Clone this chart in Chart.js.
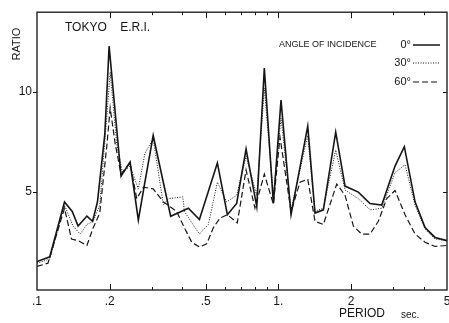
<!DOCTYPE html>
<html>
<head>
<meta charset="utf-8">
<script src="https://cdn.jsdelivr.net/npm/chart.js@4"></script>
<style>
  html, body { margin: 0; padding: 0; background: #fff; }
  #wrap { width: 449px; height: 323px; }
</style>
</head>
<body>
<div id="wrap"><canvas id="chart" width="449" height="323"></canvas></div>
<script>
// period (sec) and amplification ratio
const periods0 = [0.1, 0.113, 0.130, 0.140, 0.148, 0.161, 0.170, 0.178, 0.191, 0.199, 0.223, 0.243, 0.263, 0.280, 0.303,
  0.358, 0.424, 0.471, 0.559, 0.615, 0.672, 0.735, 0.814, 0.875, 0.954, 1.026, 1.129, 1.324, 1.419, 1.537, 1.729,
  1.890, 2.145, 2.399, 2.683, 3.045, 3.328, 3.686, 4.055, 4.461, 5.0];
const ratio0 = [1.52, 1.76, 4.5, 4.03, 3.3, 3.8, 3.54, 4.5, 7.9, 12.3, 5.8, 6.5, 3.6, 5.5, 7.83,
  3.79, 4.19, 3.63, 6.46, 3.87, 4.43, 7.15, 4.27, 11.2, 4.43, 9.6, 3.87, 8.3, 3.95, 4.11, 8.0,
  5.3, 5.0, 4.43, 4.35, 6.3, 7.27, 4.51, 3.22, 2.73, 2.57];

const periods30 = [0.1, 0.113, 0.130, 0.141, 0.151, 0.161, 0.171, 0.182, 0.195, 0.201, 0.214, 0.226, 0.243, 0.263, 0.280,
  0.303, 0.334, 0.350, 0.402, 0.408, 0.471, 0.513, 0.559, 0.611, 0.672, 0.735, 0.814, 0.875, 0.954, 1.026, 1.129,
  1.324, 1.419, 1.537, 1.729, 1.890, 2.145, 2.399, 2.683, 3.045, 3.350, 3.686, 4.055, 4.461, 5.0];
const ratio30 = [1.44, 1.65, 4.35, 3.3, 2.9, 3.38, 3.54, 4.35, 8.9, 11.0, 7.4, 5.97, 6.3, 5.16, 6.94,
  7.67, 4.35, 4.67, 4.76, 4.03, 2.9, 3.38, 5.49, 4.51, 4.84, 6.8, 4.84, 10.2, 4.84, 8.7, 4.11,
  7.83, 4.03, 4.2, 7.1, 5.1, 4.67, 4.11, 4.19, 5.97, 6.37, 4.35, 3.14, 2.65, 2.57];

const periods60 = [0.1, 0.111, 0.130, 0.139, 0.148, 0.161, 0.171, 0.182, 0.195, 0.201, 0.211, 0.223, 0.243, 0.259, 0.276,
  0.303, 0.334, 0.379, 0.411, 0.438, 0.471, 0.505, 0.538, 0.573, 0.615, 0.676, 0.735, 0.800, 0.875, 0.954, 1.016,
  1.129, 1.230, 1.324, 1.419, 1.537, 1.746, 1.890, 2.046, 2.216, 2.399, 2.597, 2.813, 3.045, 3.350, 3.686, 4.055,
  4.461, 5.0];
const ratio60 = [1.28, 1.44, 4.19, 2.65, 2.57, 2.33, 3.22, 3.95, 7.4, 9.2, 7.4, 5.9, 6.46, 4.67, 5.24,
  5.16, 4.51, 4.03, 3.14, 2.49, 2.25, 2.41, 3.22, 3.7, 3.87, 3.46, 6.1, 4.2, 5.9, 4.4, 7.75,
  4.03, 5.49, 5.65, 3.54, 3.38, 5.4, 4.84, 3.3, 2.9, 2.9, 3.54, 4.67, 5.08, 3.87, 2.9, 2.49,
  2.28, 2.33];

const xTickValues = [0.1, 0.2, 0.5, 1, 2, 5];
const xTickLabels = ['.1', '.2', '.5', '1.', '2', '5'];
const xMinorTicks = [0.3, 0.4, 0.6, 0.7, 0.8, 0.9, 3, 4];
const yTickValues = [5, 10];

const ink = '#151515';
const font = '"Liberation Sans", Arial, sans-serif';

function toPoints(xs, ys) {
  return xs.map((x, i) => ({ x: x, y: ys[i] }));
}

// frame, inward tick marks, titles and legend
const decorations = {
  id: 'decorations',
  afterDraw(chart) {
    const ctx = chart.ctx;
    const a = chart.chartArea;
    const xs = chart.scales.x;
    const ys = chart.scales.y;
    ctx.save();
    ctx.strokeStyle = ink;
    ctx.fillStyle = ink;
    ctx.lineWidth = 1.3;
    ctx.strokeRect(a.left, a.top, a.right - a.left, a.bottom - a.top);

    ctx.lineWidth = 1;
    ctx.beginPath();
    xTickValues.slice(1, -1).forEach(v => {
      const px = Math.round(xs.getPixelForValue(v)) + 0.5;
      ctx.moveTo(px, a.bottom); ctx.lineTo(px, a.bottom - 6);
      ctx.moveTo(px, a.top); ctx.lineTo(px, a.top + 6);
    });
    xMinorTicks.forEach(v => {
      const px = Math.round(xs.getPixelForValue(v)) + 0.5;
      ctx.moveTo(px, a.bottom); ctx.lineTo(px, a.bottom - 3);
      ctx.moveTo(px, a.top); ctx.lineTo(px, a.top + 3);
    });
    yTickValues.forEach(v => {
      const py = Math.round(ys.getPixelForValue(v)) + 0.5;
      ctx.moveTo(a.left - 4, py); ctx.lineTo(a.left, py);
      ctx.moveTo(a.right, py); ctx.lineTo(a.right - 4, py);
    });
    ctx.stroke();

    // axis titles
    ctx.font = '11px ' + font;
    ctx.save();
    ctx.translate(17, 44);
    ctx.rotate(-Math.PI / 2);
    ctx.textAlign = 'center';
    ctx.textBaseline = 'middle';
    ctx.fillText('RATIO', 0, 0);
    ctx.restore();

    ctx.textBaseline = 'middle';
    ctx.textAlign = 'left';
    ctx.font = '12px ' + font;
    ctx.fillText('PERIOD', 339, 314);
    ctx.font = '10px ' + font;
    ctx.fillText('sec.', 401, 315);

    ctx.font = '12px ' + font;
    ctx.fillText('TOKYO    E.R.I.', 65, 28);

    // legend
    ctx.font = '9px ' + font;
    ctx.fillText('ANGLE OF INCIDENCE', 279, 45);
    const entries = [['0°', [], 45, 1.5], ['30°', [1, 1.5], 63, 1], ['60°', [6, 3], 82, 1.2]];
    ctx.font = '11px ' + font;
    entries.forEach(e => {
      ctx.textAlign = 'right';
      ctx.fillText(e[0], 411, e[2]);
      ctx.beginPath();
      ctx.setLineDash(e[1]);
      ctx.lineWidth = e[3];
      ctx.moveTo(413, e[2]);
      ctx.lineTo(440, e[2]);
      ctx.stroke();
    });
    ctx.restore();
  }
};

new Chart(document.getElementById('chart').getContext('2d'), {
  type: 'line',
  data: {
    datasets: [
      { label: '0°', data: toPoints(periods0, ratio0), borderColor: ink, borderWidth: 1.6 },
      { label: '30°', data: toPoints(periods30, ratio30), borderColor: ink, borderWidth: 1, borderDash: [1, 1.5] },
      { label: '60°', data: toPoints(periods60, ratio60), borderColor: ink, borderWidth: 1.2, borderDash: [6, 3] }
    ]
  },
  options: {
    responsive: false,
    animation: false,
    events: [],
    layout: { padding: { top: 5, right: 2, left: 0, bottom: 0 } },
    elements: { point: { radius: 0 }, line: { tension: 0, fill: false } },
    plugins: { legend: { display: false }, tooltip: { enabled: false } },
    scales: {
      x: {
        type: 'logarithmic',
        min: 0.1,
        max: 5,
        border: { display: false },
        grid: { display: false, drawTicks: false },
        afterBuildTicks: s => { s.ticks = xTickValues.map(v => ({ value: v })); },
        afterFit: s => { s.height = 33; s.paddingLeft = 0; s.paddingRight = 0; },
        ticks: {
          autoSkip: false,
          maxRotation: 0,
          padding: 4,
          color: ink,
          font: { family: font, size: 12 },
          callback: (v, i) => xTickLabels[i]
        }
      },
      y: {
        min: 0.1,
        max: 14,
        border: { display: false },
        grid: { display: false, drawTicks: false },
        afterBuildTicks: s => { s.ticks = yTickValues.map(v => ({ value: v })); },
        afterFit: s => { s.width = 37; },
        ticks: {
          padding: 5,
          color: ink,
          font: { family: font, size: 12 },
          callback: v => String(v)
        }
      }
    }
  },
  plugins: [decorations]
});
</script>
</body>
</html>
